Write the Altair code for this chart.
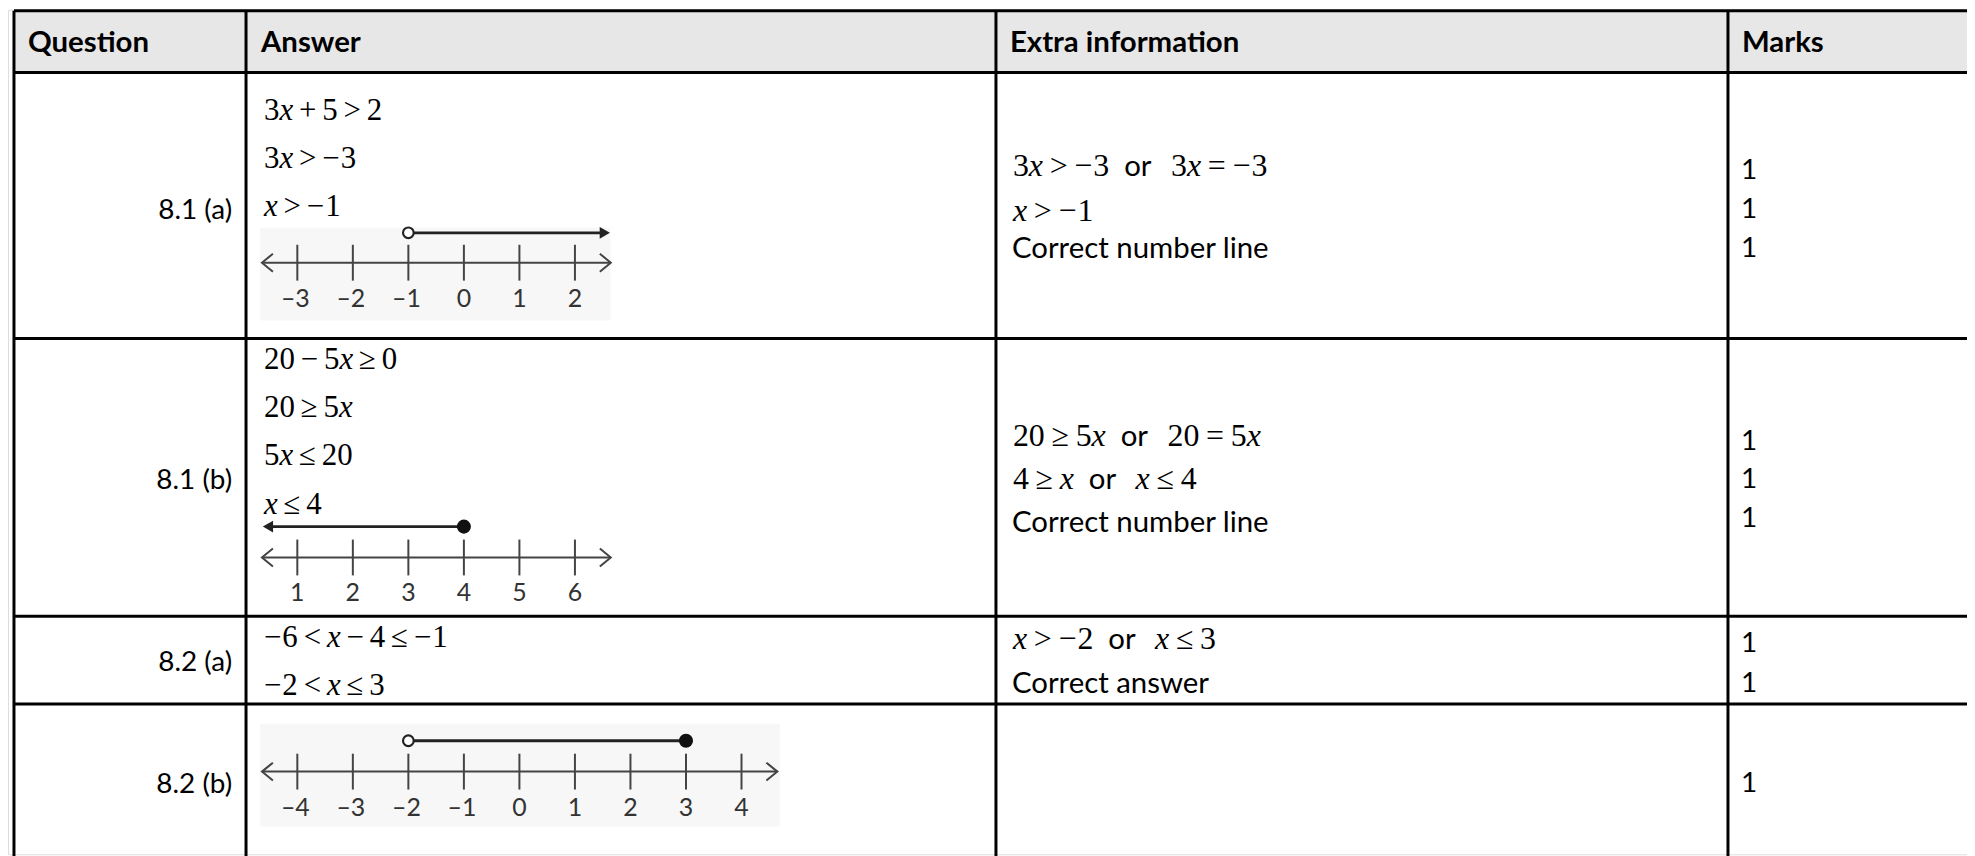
import altair as alt
import pandas as pd

# ---------------- table content ----------------
headers = ["Question", "Answer", "Extra information", "Marks"]
questions = ["8.1 (a)", "8.1 (b)", "8.2 (a)", "8.2 (b)"]

answer_math = [
    ["3x+5>2", "3x>−3", "x>−1"],
    ["20−5x≥0", "20≥5x", "5x≤20", "x≤4"],
    ["−6<x−4≤−1", "−2<x≤3"],
    [],
]
# "$" marks a math segment, anything else is plain text
extra_lines = [
    [["$3x>−3", "or", "$3x=−3"], ["$x>−1"], ["Correct number line"]],
    [["$20≥5x", "or", "$20=5x"], ["$4≥x", "or", "$x≤4"], ["Correct number line"]],
    [["$x>−2", "or", "$x≤3"], ["Correct answer"]],
    [],
]
marks = [[1, 1, 1], [1, 1, 1], [1, 1], [1]]

# number lines (answer column)
nl_ticks = [[-3, -2, -1, 0, 1, 2], [1, 2, 3, 4, 5, 6], [-4, -3, -2, -1, 0, 1, 2, 3, 4]]
nl_open = [[-1], [], [-2]]
nl_closed = [[], [4], [3]]
nl_ray = [(-1, "right"), (4, "left"), (-2, 3)]

# ---------------- layout (pixels of the 1975x856 page) ----------------
W, H = 1967, 848
COL_X = [14, 247, 1000, 1735]
ROW_Y = [9, 71, 338, 617, 705]
RIGHT, BOTTOM = 1995, 880
HEAD_BASE = 50
HEAD_X = [28, 262, 1014, 1749]
Q_RIGHT = 233
Q_BASE = [218, 489, 672, 794]
ANS_X = 265
ANS_BASE = [119, 369, 648]
ANS_STEP = 48.3
EXTRA_X = 1016
EXTRA_BASE = [[175, 220, 257], [446, 489, 532], [650, 694]]
MARK_X = 1748
MARK_BASE = [[178, 217, 256], [450, 488, 527], [653, 693], [793]]
NL_ROWS = [(232, 262, 298), (527, 558, 594), (742, 773, 810)]  # ray y, axis y, label y
NL_X0, NL_STEP, NL_LEFT_TIP, NL_EXT = 298.5, 55.75, 263, 36
NL_BG = [(261, 227, 613, 320), None, (261, 725, 783, 828)]

BODY_FONT = "Lato"
MATH_FONT = "Liberation Serif"

# ---------------- math typesetting helpers ----------------
EM = {"x": 0.444, "+": 0.564, "−": 0.564, "<": 0.564, ">": 0.564, "=": 0.564,
      "≥": 0.549, "≤": 0.549}
OPS = set("+−<>=≥≤")


def tokenize(s):
    toks, buf = [], ""
    for ch in s:
        if ch.isdigit():
            buf += ch
        else:
            if buf:
                toks.append(buf)
                buf = ""
            toks.append(ch)
    if buf:
        toks.append(buf)
    return toks


def layout_math(s, x, y, fs, out, pad_em=0.19):
    pad = pad_em * fs
    prev = None
    for t in tokenize(s):
        if t in OPS:
            unary = t == "−" and (prev is None or prev in OPS)
            if unary:
                out.append(dict(x=x, y=y, t=t, fs=fs, it=False))
                x += EM[t] * fs + 1
            else:
                x += pad
                out.append(dict(x=x, y=y, t=t, fs=fs, it=False))
                x += EM[t] * fs + pad
        elif t == "x":
            out.append(dict(x=x, y=y, t=t, fs=fs, it=True))
            x += EM["x"] * fs
        else:
            out.append(dict(x=x, y=y, t=t, fs=fs, it=False))
            x += 0.5 * fs * len(t)
        prev = t
    return x


math_rows, body_rows, mark_rows = [], [], []

for r, lines in enumerate(answer_math):
    for i, s in enumerate(lines):
        layout_math(s, ANS_X, ANS_BASE[r] + i * ANS_STEP, 31, math_rows)

for r, lines in enumerate(extra_lines):
    for i, segs in enumerate(lines):
        y = EXTRA_BASE[r][i]
        x = EXTRA_X
        for k, seg in enumerate(segs):
            if seg.startswith("$"):
                x = layout_math(seg[1:], x + (1 if k == 0 else 0), y, 32, math_rows, 0.21)
            else:
                if k > 0:
                    x += 15
                body_rows.append(dict(x=x, y=y, t=seg))
                x += 28 + 19

for r, ms in enumerate(marks):
    for i, m in enumerate(ms):
        mark_rows.append(dict(x=MARK_X, y=MARK_BASE[r][i], t=str(m)))

math_df = pd.DataFrame(math_rows)
body_df = pd.DataFrame(body_rows)
mark_df = pd.DataFrame(mark_rows)
head_df = pd.DataFrame(dict(x=HEAD_X, y=[HEAD_BASE] * 4, t=headers))
q_df = pd.DataFrame(dict(x=[Q_RIGHT] * 4, y=Q_BASE, t=questions))

# ---------------- grid ----------------
rules = [dict(x=COL_X[0], x2=RIGHT, y=y, y2=y) for y in ROW_Y]
rules += [dict(x=x, x2=x, y=ROW_Y[0], y2=BOTTOM) for x in COL_X]
rule_df = pd.DataFrame(rules)
head_fill = pd.DataFrame([dict(x=COL_X[0], x2=RIGHT, y=ROW_Y[0], y2=ROW_Y[1])])

# ---------------- number lines ----------------
bg, axis, ticks, labels, chev, rays, heads, opens, closeds = [], [], [], [], [], [], [], [], []
for n, vals in enumerate(nl_ticks):
    ry, ay, ly = NL_ROWS[n]

    def px(v, vals=vals):
        return NL_X0 + (v - vals[0]) * NL_STEP

    rt = px(vals[-1]) + NL_EXT
    if NL_BG[n]:
        x0, y0, x1, y1 = NL_BG[n]
        bg.append(dict(x=x0, x2=x1, y=y0, y2=y1))
    axis.append(dict(x=NL_LEFT_TIP, x2=rt, y=ay, y2=ay))
    for v in vals:
        ticks.append(dict(x=px(v), x2=px(v), y=ay - 18, y2=ay + 18))
        labels.append(dict(x=px(v) - (2 if v < 0 else 0), y=ly,
                           t=(f"–{abs(v)}" if v < 0 else str(v))))
    chev += [dict(x=NL_LEFT_TIP + 11, y=ay - 9, g=f"{n}L", o=0),
             dict(x=NL_LEFT_TIP, y=ay, g=f"{n}L", o=1),
             dict(x=NL_LEFT_TIP + 11, y=ay + 9, g=f"{n}L", o=2),
             dict(x=rt - 11, y=ay - 9, g=f"{n}R", o=0),
             dict(x=rt, y=ay, g=f"{n}R", o=1),
             dict(x=rt - 11, y=ay + 9, g=f"{n}R", o=2)]
    a, b = nl_ray[n]
    if b == "right":
        rays.append(dict(x=px(a), x2=rt - 6, y=ry, y2=ry))
        heads.append(dict(x=rt - 6, y=ry, s="triangle-right"))
    elif b == "left":
        rays.append(dict(x=NL_LEFT_TIP + 6, x2=px(a), y=ry, y2=ry))
        heads.append(dict(x=NL_LEFT_TIP + 6, y=ry, s="triangle-left"))
    else:
        rays.append(dict(x=px(a), x2=px(b), y=ry, y2=ry))
    for v in nl_open[n]:
        opens.append(dict(x=px(v), y=ry))
    for v in nl_closed[n]:
        closeds.append(dict(x=px(v), y=ry))

# ---------------- chart ----------------
xs = alt.Scale(domain=[8, 8 + W], nice=False, zero=False)
ys = alt.Scale(domain=[8, 8 + H], nice=False, zero=False, reverse=True)
X = alt.X("x:Q", scale=xs, axis=None)
Y = alt.Y("y:Q", scale=ys, axis=None)
X2 = alt.X2("x2:Q")
Y2 = alt.Y2("y2:Q")


def rect(df, color):
    return alt.Chart(pd.DataFrame(df)).mark_rect(color=color).encode(x=X, x2=X2, y=Y, y2=Y2)


def rule(df, color, sw):
    return alt.Chart(pd.DataFrame(df)).mark_rule(color=color, strokeWidth=sw).encode(
        x=X, x2=X2, y=Y, y2=Y2)


def text(df, **kw):
    base = dict(color="black", align="left", baseline="alphabetic")
    base.update(kw)
    return alt.Chart(df).mark_text(**base).encode(x=X, y=Y, text="t:N")


layers = [
    rect(head_fill, "#e7e7e7"),
    rect(bg, "#f7f7f7"),
    rule(rule_df, "black", 3),
    rule(axis, "#444444", 2),
    rule(ticks, "#444444", 2),
    alt.Chart(pd.DataFrame(chev)).mark_line(color="#444444", strokeWidth=2).encode(
        x=X, y=Y, detail="g:N", order="o:Q"),
    rule(rays, "#222222", 2.8),
    alt.Chart(pd.DataFrame(heads)).mark_point(filled=True, color="#222222", size=140, opacity=1).encode(
        x=X, y=Y, shape=alt.Shape("s:N", scale=None)),
    alt.Chart(pd.DataFrame(opens)).mark_point(
        shape="circle", filled=True, fill="white", stroke="#222222", strokeWidth=2.2, size=115, opacity=1
    ).encode(x=X, y=Y),
    alt.Chart(pd.DataFrame(closeds)).mark_point(
        shape="circle", filled=True, color="#111111", size=200, opacity=1
    ).encode(x=X, y=Y),
    text(pd.DataFrame(labels), font=BODY_FONT, fontSize=25, color="#333333",
         align="center", baseline="middle"),
    text(head_df, font=BODY_FONT, fontWeight="bold", fontSize=29.5),
    text(q_df, font=BODY_FONT, fontSize=28, align="right"),
    text(body_df, font=BODY_FONT, fontSize=29.5),
    text(mark_df, font=BODY_FONT, fontSize=28),
    alt.Chart(math_df[~math_df["it"]]).mark_text(
        font=MATH_FONT, color="black", align="left", baseline="alphabetic"
    ).encode(x=X, y=Y, text="t:N", size=alt.Size("fs:Q", scale=None)),
    alt.Chart(math_df[math_df["it"]]).mark_text(
        font=MATH_FONT, fontStyle="italic", color="black", align="left", baseline="alphabetic"
    ).encode(x=X, y=Y, text="t:N", size=alt.Size("fs:Q", scale=None)),
]

chart = alt.layer(*layers).properties(
    width=W, height=H, padding=0, autosize=alt.AutoSizeParams(type="none")
).configure_view(stroke=None).configure(background="white")

chart.save("out.html", embed_options={"renderer": "svg", "actions": False})
